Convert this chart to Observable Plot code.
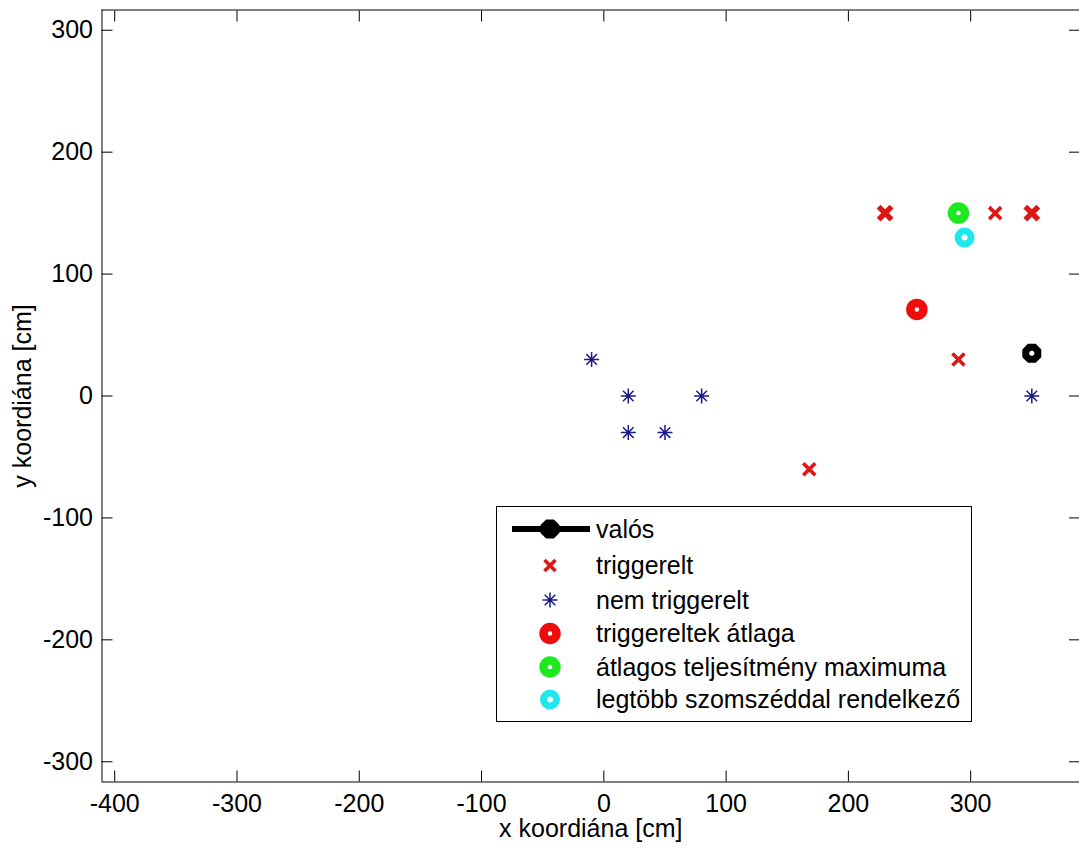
<!DOCTYPE html>
<html>
<head>
<meta charset="utf-8">
<script src="https://cdn.jsdelivr.net/npm/d3@7"></script>
<script src="https://cdn.jsdelivr.net/npm/@observablehq/plot@0.6"></script>
<style>
  html, body { margin: 0; padding: 0; background: #fff; }
  #wrap { position: relative; width: 1079px; height: 848px; overflow: hidden; }
  #legend { position: absolute; left: 496px; top: 506px; }
</style>
</head>
<body>
<div id="wrap"></div>
<script>
// ---- data ----
const xTicks = [-400, -300, -200, -100, 0, 100, 200, 300];
const yTicks = [-300, -200, -100, 0, 100, 200, 300];
const xDomain = [-410.4, 389];
const yDomain = [-316.6, 316.6];

// triggerelt (red x); hits = overlapping markers (drawn bolder)
const trigX = [230, 320, 350, 290, 168];
const trigY = [150, 150, 150, 30, -60];
const trigHits = [2, 1, 2, 1, 1];

// nem triggerelt (blue asterisk)
const nemX = [-10, 20, 80, 20, 50, 350];
const nemY = [30, 0, 0, -30, -30, 0];

// single estimates
const valosXY = [350, 35];
const atlagXY = [256, 71];
const maxXY = [290, 150];
const szomszedXY = [295, 130];

const labels = ["valós", "triggerelt", "nem triggerelt", "triggereltek átlaga",
  "átlagos teljesítmény maximuma", "legtöbb szomszéddal rendelkező"];

const FONT = "'Liberation Sans', Arial, sans-serif";
const RED_X = "#dd1616";
const RED = "#ee0c0c";
const GREEN = "#1ee81e";
const CYAN = "#1ee8ee";
const BLUE = "#1c1c88";

// custom symbols: r (plot) = half-length of the strokes
const symTimes = {
  draw(ctx, size) {
    const r = Math.sqrt(size / Math.PI);
    ctx.moveTo(-r, -r); ctx.lineTo(r, r);
    ctx.moveTo(-r, r); ctx.lineTo(r, -r);
  }
};
const symStar = {
  draw(ctx, size) {
    const r = Math.sqrt(size / Math.PI);
    const d = r * 0.7071;
    ctx.moveTo(0, -r); ctx.lineTo(0, r);
    ctx.moveTo(-r, 0); ctx.lineTo(r, 0);
    ctx.moveTo(-d, -d); ctx.lineTo(d, d);
    ctx.moveTo(-d, d); ctx.lineTo(d, -d);
  }
};
const symOct = {
  draw(ctx, size) {
    const r = Math.sqrt(size / Math.PI);
    for (let i = 0; i < 8; i++) {
      const a = (i + 0.5) * Math.PI / 4;
      const px = r * Math.cos(a), py = r * Math.sin(a);
      if (i === 0) ctx.moveTo(px, py); else ctx.lineTo(px, py);
    }
    ctx.closePath();
  }
};

const trig = trigX.map((x, i) => ({x, y: trigY[i], hits: trigHits[i]}));
const nem = nemX.map((x, i) => ({x, y: nemY[i]}));
const pt = (a) => [{x: a[0], y: a[1]}];
const blank = () => "";
const num = d => String(d);

const chart = Plot.plot({
  width: 1079,
  height: 848,
  marginLeft: 101.5,
  marginRight: 0,
  marginTop: 9.5,
  marginBottom: 66.5,
  style: {fontFamily: FONT, fontSize: "25px", background: "white", color: "black"},
  x: {domain: xDomain, ticks: xTicks},
  y: {domain: yDomain, ticks: yTicks},
  marks: [
    // frame lines (left, top, bottom)
    Plot.ruleX([xDomain[0]], {stroke: "black", strokeWidth: 1}),
    Plot.ruleY([yDomain[0], yDomain[1]], {stroke: "black", strokeWidth: 1}),
    // inward ticks on all four sides
    Plot.axisX(xTicks, {anchor: "top", tickSize: -11, tickFormat: blank, label: null, stroke: "black"}),
    Plot.axisY(yTicks, {anchor: "right", tickSize: -11, tickFormat: blank, label: null, stroke: "black"}),
    Plot.axisX(xTicks, {anchor: "bottom", tickSize: -11, tickPadding: 23, tickFormat: num, label: null, fontSize: 25, stroke: "black", fill: "black"}),
    Plot.axisY(yTicks, {anchor: "left", tickSize: -11, tickPadding: 20, tickFormat: num, label: null, fontSize: 25, stroke: "black", fill: "black"}),
    // axis labels
    Plot.text(["x koordiána [cm]"], {frameAnchor: "bottom", dy: 47, text: d => d, fontSize: 25, fill: "black", lineAnchor: "middle", textAnchor: "middle"}),
    Plot.text(["y koordiána [cm]"], {frameAnchor: "left", dx: -79, rotate: -90, text: d => d, fontSize: 25, fill: "black", lineAnchor: "middle", textAnchor: "middle"}),
    // data
    Plot.dot(nem, {x: "x", y: "y", symbol: symStar, r: 7.5, stroke: BLUE, strokeWidth: 1.5, fill: "none"}),
    Plot.dot(trig.filter(d => d.hits === 1), {x: "x", y: "y", symbol: symTimes, r: 6, stroke: RED_X, strokeWidth: 3.6}),
    Plot.dot(trig.filter(d => d.hits > 1), {x: "x", y: "y", symbol: symTimes, r: 6.5, stroke: RED_X, strokeWidth: 5.5}),
    Plot.dot(pt(valosXY), {x: "x", y: "y", symbol: symOct, r: 6.5, stroke: "black", strokeWidth: 7, fill: "white"}),
    Plot.dot(pt(atlagXY), {x: "x", y: "y", r: 6.5, stroke: RED, strokeWidth: 8.5, fill: "white"}),
    Plot.dot(pt(maxXY), {x: "x", y: "y", r: 6.5, stroke: GREEN, strokeWidth: 8.5, fill: "white"}),
    Plot.dot(pt(szomszedXY), {x: "x", y: "y", r: 6.5, stroke: CYAN, strokeWidth: 7, fill: "white"})
  ]
});
document.getElementById("wrap").appendChild(chart);

// ---- legend overlay ----
const LW = 476, LH = 216;
const lg = d3.select("#wrap").append("svg")
  .attr("id", "legend").attr("width", LW).attr("height", LH)
  .style("font-family", FONT).style("font-size", "25px");
lg.append("rect").attr("x", 0.5).attr("y", 0.5).attr("width", LW - 1).attr("height", LH - 1)
  .attr("fill", "white").attr("stroke", "black").attr("stroke-width", 1);
const rowY = [23, 59.5, 94, 127.5, 161, 193.5];
const mx = 54, tx = 100;
const sym = (s, r) => d3.symbol(s, Math.PI * r * r)();
// valós
lg.append("line").attr("x1", 16).attr("x2", 94).attr("y1", rowY[0]).attr("y2", rowY[0])
  .attr("stroke", "black").attr("stroke-width", 6);
lg.append("path").attr("d", sym(symOct, 7)).attr("transform", `translate(${mx},${rowY[0]})`)
  .attr("fill", "black").attr("stroke", "black").attr("stroke-width", 6);
// triggerelt
lg.append("path").attr("d", sym(symTimes, 5.5)).attr("transform", `translate(${mx},${rowY[1]})`)
  .attr("stroke", RED_X).attr("stroke-width", 3.6).attr("fill", "none");
// nem triggerelt
lg.append("path").attr("d", sym(symStar, 7.5)).attr("transform", `translate(${mx},${rowY[2]})`)
  .attr("stroke", BLUE).attr("stroke-width", 1.5).attr("fill", "none");
// circles
[[RED, 8.5], [GREEN, 8.5], [CYAN, 7]].forEach(([c, w], i) => {
  lg.append("circle").attr("cx", mx).attr("cy", rowY[3 + i]).attr("r", 6.5)
    .attr("fill", "white").attr("stroke", c).attr("stroke-width", w);
});
labels.forEach((t, i) => {
  lg.append("text").attr("x", tx).attr("y", rowY[i]).attr("dy", "0.35em").attr("fill", "black").text(t);
});
</script>
</body>
</html>
